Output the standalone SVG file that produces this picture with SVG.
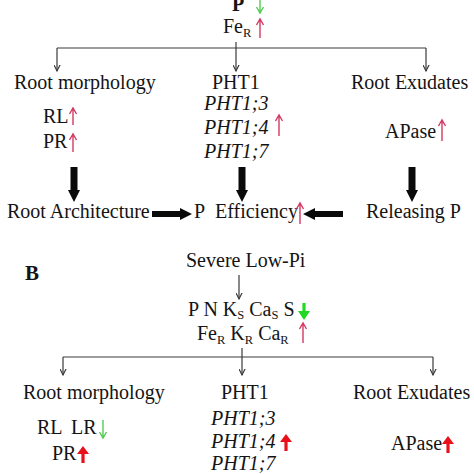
<svg xmlns="http://www.w3.org/2000/svg" width="474" height="474" viewBox="0 0 474 474">
<style>
text{font-family:"Liberation Serif","Times New Roman",serif;font-size:20px;fill:#141414}
.it{font-style:italic}
.sub{font-size:12.5px}
.conn{stroke:#3a3a3a;stroke-width:1.2;fill:none}
.red{stroke:#d43a63;stroke-width:1.4;fill:none}
.grn{stroke:#55cc55;stroke-width:1.4;fill:none}
.redB{stroke:#e8101a;stroke-width:3.2;fill:none}
.grnB{stroke:#22d822;stroke-width:3.2;fill:none}
.blk{fill:#0a0a0a}
</style>
<defs>
<marker id="open" markerUnits="userSpaceOnUse" markerWidth="12" markerHeight="12" viewBox="-6 -9 12 12" refX="0" refY="0" orient="auto-start-reverse">
<path d="M-4,-8 L0,0 L4,-8" transform="rotate(-90)" fill="none" stroke="#3a3a3a" stroke-width="1.2"/>
</marker>
</defs>

<g id="connectors">
<line class="conn" x1="236" y1="42" x2="236" y2="48"/>
<line class="conn" x1="57" y1="48" x2="426" y2="48"/>
<line class="conn" x1="57" y1="48" x2="57" y2="71" marker-end="url(#open)"/>
<line class="conn" x1="236" y1="48" x2="236" y2="71" marker-end="url(#open)"/>
<line class="conn" x1="426" y1="48" x2="426" y2="71" marker-end="url(#open)"/>
<g class="blk">
<polygon points="70.5,167 77.5,167 77.5,190 80,190 74,202 68,190 70.5,190"/>
<polygon points="238.5,167 245.5,167 245.5,190 248,190 242,202 236,190 238.5,190"/>
<polygon points="408.5,167 415.5,167 415.5,190 418,190 412,202 406,190 408.5,190"/>
<polygon points="152,211 180,211 180,208 192,214 180,220 180,217 152,217"/>
<polygon points="343,211 315,211 315,208 303,214 315,220 315,217 343,217"/>
</g>
<line class="conn" x1="239" y1="275" x2="239" y2="299" marker-end="url(#open)"/>
<line class="conn" x1="242" y1="348" x2="242" y2="357"/>
<line class="conn" x1="63" y1="357" x2="433" y2="357"/>
<line class="conn" x1="63" y1="357" x2="63" y2="375" marker-end="url(#open)"/>
<line class="conn" x1="242" y1="357" x2="242" y2="375" marker-end="url(#open)"/>
<line class="conn" x1="433" y1="357" x2="433" y2="375" marker-end="url(#open)"/>
</g>

<g id="A-top">
<text x="232" y="11" style="font-weight:bold">P</text>
<path class="grn" d="M260,0 V13 M256.5,7 L260,13 L263.5,7"/>
<text x="223" y="33">Fe<tspan class="sub" dy="4">R</tspan></text>
<path class="red" d="M260,38 V19 M256.5,25 L260,19 L263.5,25"/>
</g>

<g id="A-root-morphology">
<text x="14" y="89">Root morphology</text>
<text x="43" y="123">RL</text>
<path class="red" d="M73,125 V108 M69.5,114 L73,108 L76.5,114"/>
<text x="43" y="148">PR</text>
<path class="red" d="M73,152 V134 M69.5,140 L73,134 L76.5,140"/>
</g>

<g id="A-pht1">
<text x="212" y="89">PHT1</text>
<text class="it" x="204" y="110">PHT1;3</text>
<text class="it" x="204" y="134">PHT1;4</text>
<path class="red" d="M279,136 V115 M275.5,121 L279,115 L282.5,121"/>
<text class="it" x="204" y="158">PHT1;7</text>
</g>

<g id="A-root-exudates">
<text x="351" y="89">Root Exudates</text>
<text x="385" y="138">APase</text>
<path class="red" d="M442,141 V120 M438.5,126 L442,120 L445.5,126"/>
</g>

<g id="A-root-architecture">
<text x="7" y="218">Root Architecture</text>
</g>

<g id="A-p-efficiency">
<text x="194" y="218">P</text>
<text x="215" y="218">Efficiency</text>
<path class="red" d="M300,224 V203 M296.5,209 L300,203 L303.5,209"/>
</g>

<g id="A-releasing-p">
<text x="366" y="218">Releasing P</text>
</g>

<g id="B-label">
<text x="25" y="280" style="font-weight:bold;font-size:21px">B</text>
</g>

<g id="B-severe">
<text x="186" y="267">Severe Low-Pi</text>
</g>

<g id="B-elements">
<text x="188" y="316">P N K<tspan class="sub" dy="3">S</tspan><tspan dy="-3"> Ca</tspan><tspan class="sub" dy="3">S</tspan><tspan dy="-3"> S</tspan></text>
<path class="grnB" d="M304,303 V318"/>
<polygon points="298,311 310,311 304,320" fill="#22d822"/>
<text x="197" y="340">Fe<tspan class="sub" dy="3.5">R</tspan><tspan dy="-3.5"> K</tspan><tspan class="sub" dy="3.5">R</tspan><tspan dy="-3.5"> Ca</tspan><tspan class="sub" dy="3.5">R</tspan></text>
<path class="red" d="M303,343 V323 M299.5,329 L303,323 L306.5,329"/>
</g>

<g id="B-root-morphology">
<text x="23" y="399">Root morphology</text>
<text x="37" y="434">RL</text>
<text x="71" y="434">LR</text>
<path class="grn" d="M103,420 V438 M99.5,432 L103,438 L106.5,432"/>
<text x="52" y="460">PR</text>
<path class="redB" d="M83,463 V450"/>
<polygon points="77,454 89,454 83,446" fill="#e8101a"/>
</g>

<g id="B-pht1">
<text x="221" y="399">PHT1</text>
<text class="it" x="211" y="425">PHT1;3</text>
<text class="it" x="211" y="448">PHT1;4</text>
<path class="redB" d="M286,451 V438"/>
<polygon points="280,442 292,442 286,434" fill="#e8101a"/>
<text class="it" x="211" y="470">PHT1;7</text>
</g>

<g id="B-root-exudates">
<text x="353" y="399">Root Exudates</text>
<text x="391" y="450">APase</text>
<path class="redB" d="M448,453 V440"/>
<polygon points="442,444 454,444 448,436" fill="#e8101a"/>
</g>
</svg>
